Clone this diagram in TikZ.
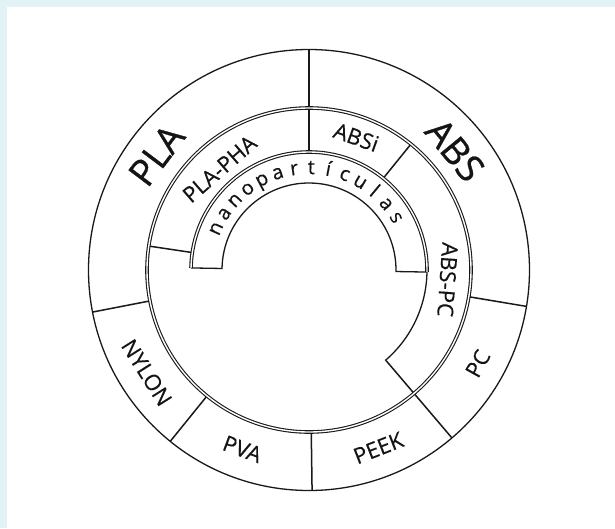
\documentclass[tikz,border=0pt]{standalone}
\usepackage{fontspec}
\setmainfont{Open Sans}
\definecolor{bgc}{RGB}{226,243,245}
\definecolor{linec}{RGB}{25,25,25}
\definecolor{txt}{RGB}{20,20,20}
\begin{document}
\begin{tikzpicture}[x=1pt,y=1pt,
  ring/.style={draw=linec, line width=1.3pt},
  dring/.style={draw=linec, line width=1.1pt, double=white, double distance=1.4pt},
  sep/.style={draw=linec, line width=1.5pt},
  big/.style={font=\fontsize{37}{37}\selectfont\addfontfeature{FakeBold=0.8}, text=txt, inner sep=0pt},
  mid/.style={font=\fontsize{22}{22}\selectfont\addfontfeature{FakeBold=0.3}, text=txt, inner sep=0pt},
  nano/.style={font=\fontsize{20}{20}\selectfont\addfontfeature{FakeBold=0.3}, text=txt, anchor=base, inner sep=0pt},
]
\fill[bgc] (-309,-258) rectangle (306,270);
\fill[white] (-302,-258) rectangle (306,263);
\useasboundingbox (-309,-258) rectangle (306,270);
\coordinate (O) at (0,0);

% radial separators
\draw[sep] (90:118) -- (90:220.5);
\draw[sep] (171.5:118) -- (171.5:162);
\draw[sep] (51:118) -- (51:162);
\draw[sep] (-49.6:119) -- (-49.6:220.5);
\draw[sep] (191:162) -- (191:220.5);
\draw[sep] (231:162) -- (231:220.5);
\draw[sep] (270.8:162) -- (270.8:220.5);
\draw[sep] (-9.5:162) -- (-9.5:220.5);

% outer circle
\draw[ring] (O) circle (220.5);
% nanoparticle band
\draw[ring] (179:118) -- (179:87) arc (179:-1:87) -- (-1:118);
\draw[ring] (-1:118) arc (-1:-49.6:119);
\draw[dring] (179:118) arc (179:-1:118);
% middle double ring
\draw[dring] (O) circle (162);

% labels
\node[big, rotate=53] (pla) at (143:191) {PLA};
\node[big, rotate=-50.6] (abs) at (39.4:189) {ABS};
\node[mid, rotate=41] (plapha) at (131.5:135) {PLA-PHA};
\node[mid, rotate=-19.6] (absi) at (70.4:141) {ABSi};
\node[mid, rotate=-94] (abspc) at (-4:139) {ABS-PC};
\node[mid, rotate=-57.7] (nylon) at (212.3:192) {NYLON};
\node[mid, rotate=-20.4] (pva) at (249.6:191) {PVA};
\node[mid, rotate=21.3] (peek) at (291.3:191) {PEEK};
\node[mid, rotate=61] (pc) at (-29:193) {PC};

\foreach \c [count=\i] in {n,a,n,o,p,a,r,t,í,c,u,l,a,s} {
  \pgfmathsetmacro\ang{156-(\i-1)*125/13}
  \node[nano, rotate=\ang-90] (np\i) at (\ang:96) {\c};
}
\end{tikzpicture}
\end{document}
